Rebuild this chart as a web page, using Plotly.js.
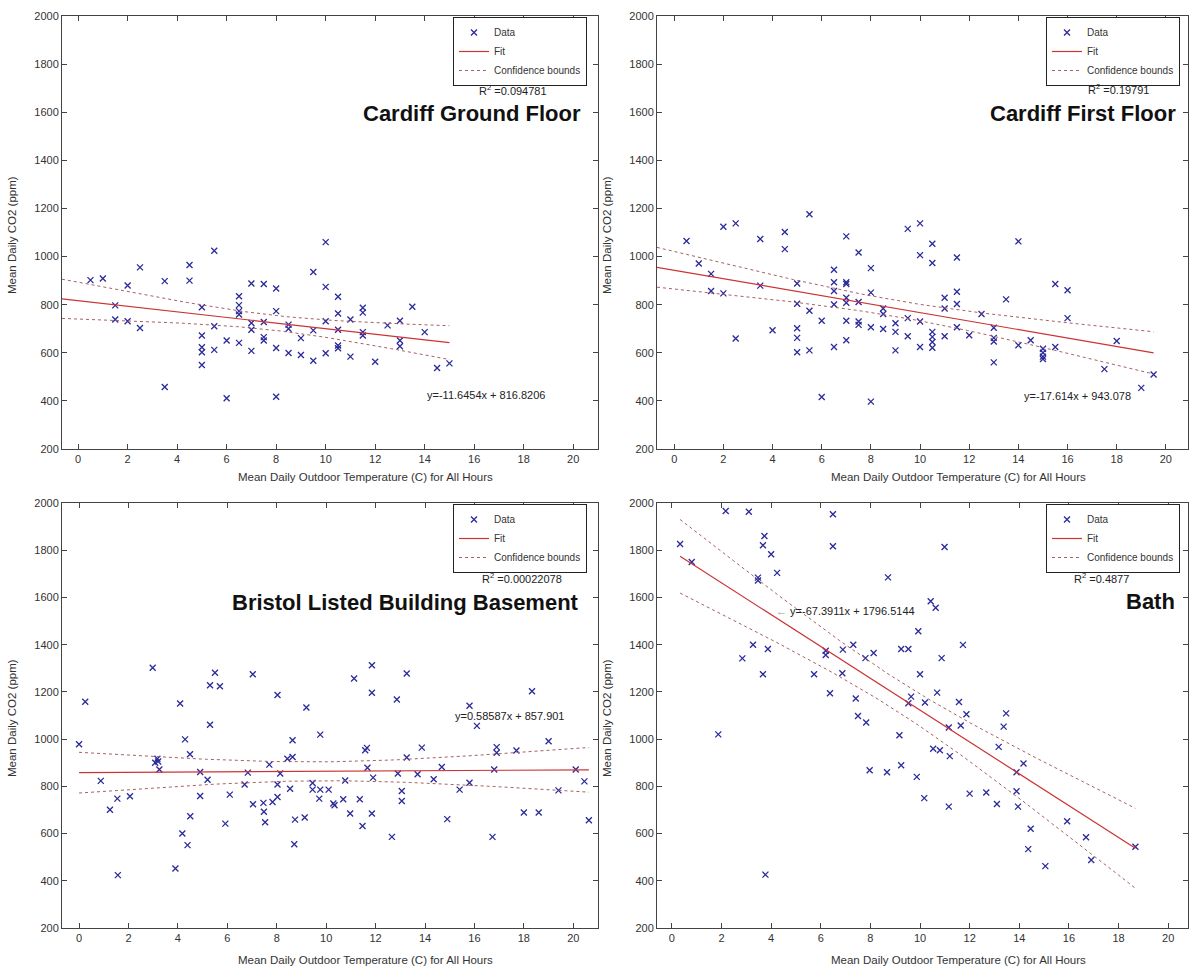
<!DOCTYPE html>
<html><head><meta charset="utf-8">
<script src="https://cdn.plot.ly/plotly-3.0.1.min.js"></script>
<style>html,body{margin:0;padding:0;background:#fff}#chart{width:1192px;height:971px}</style>
</head><body><div id="chart"></div>
<script>
// ---------------- data ----------------
const panelTitles = ['Cardiff Ground Floor', 'Cardiff First Floor', 'Bristol Listed Building Basement', 'Bath'];
const r2Values = ['0.094781', '0.19791', '0.00022078', '0.4877'];
const fitSlopes = [-11.6454, -17.614, 0.58587, -67.3911];
const fitIntercepts = [816.8206, 943.078, 857.901, 1796.5144];
const eqLabels = ['y=-11.6454x + 816.8206', 'y=-17.614x + 943.078', 'y=0.58587x + 857.901', 'y=-67.3911x + 1796.5144'];
const legendLabels = ['Data', 'Fit', 'Confidence bounds'];
const xTitle = 'Mean Daily Outdoor Temperature (C) for All Hours';
const yTitle = 'Mean Daily CO2 (ppm)';

const cgfTemp = [0.5,1,1.5,1.5,2,2,2.5,2.5,3.5,3.5,4.5,4.5,5,5,5,5,5,5.5,5.5,5.5,6,6,6.5,6.5,6.5,6.5,6.5,7,7,7,7,7.5,7.5,7.5,7.5,8,8,8,8,8.5,8.5,8.5,9,9,9.5,9.5,9.5,10,10,10,10,10.5,10.5,10.5,10.5,10.5,11,11,11.5,11.5,11.5,11.5,12,12.5,13,13,13,13.5,14,14.5,15];
const cgfCO2 = [902,909,797,738,880,731,955,703,898,458,965,900,789,672,623,602,549,1024,710,612,651,411,835,798,773,759,641,888,724,696,608,886,728,665,651,867,773,620,417,717,700,599,661,591,936,693,567,1060,874,731,598,833,763,696,630,619,738,584,787,767,686,672,563,714,733,651,627,791,686,537,556];

const cffTemp = [0.5,1,1.5,1.5,2,2,2.5,2.5,3.5,3.5,4,4.5,4.5,5,5,5,5,5,5.5,5.5,5.5,6,6,6.5,6.5,6.5,6.5,6.5,7,7,7,7,7,7,7,7.5,7.5,7.5,7.5,8,8,8,8,8.5,8.5,8.5,9,9,9,9.5,9.5,9.5,10,10,10,10,10.5,10.5,10.5,10.5,10.5,10.5,11,11,11,11.5,11.5,11.5,11.5,12,12.5,13,13,13,13,13.5,14,14,14.5,15,15,15,15,15.5,15.5,16,16,17.5,18,19,19.5];
const cffCO2 = [1065,971,928,857,1124,847,1138,659,1073,879,694,1102,1031,888,804,702,662,602,1176,775,610,733,416,945,893,857,801,624,1084,893,886,829,808,733,652,1017,811,730,716,952,850,706,397,784,761,699,723,687,610,1115,744,669,1138,1006,730,624,1053,973,687,666,645,621,829,784,669,996,854,803,706,673,761,704,662,647,560,822,1063,631,652,617,600,584,574,886,624,860,744,532,649,454,510];

const brsTemp = [0.0,0.25,0.88,1.25,1.55,1.57,2.06,2.98,3.08,3.17,3.25,3.2,3.9,4.09,4.18,4.29,4.39,4.49,4.5,4.9,4.9,5.2,5.3,5.3,5.5,5.7,5.92,6.1,6.7,6.83,7.03,7.04,7.46,7.48,7.53,7.7,7.83,8.03,8.03,8.03,8.14,8.43,8.64,8.64,8.54,8.74,8.71,9.13,9.2,9.45,9.45,9.72,9.76,9.76,10.1,10.29,10.34,10.69,10.77,10.97,11.13,11.36,11.47,11.58,11.65,11.67,11.85,11.85,11.85,11.9,12.66,12.86,12.9,13.06,13.06,13.26,13.26,13.7,13.87,14.35,14.68,14.9,15.4,15.8,15.8,16.1,16.73,16.8,16.9,16.9,17.7,18.0,18.33,18.6,19.0,19.4,20.1,20.45,20.63];
const brsCO2 = [978,1158,823,701,748,424,758,1302,900,917,871,905,452,1151,600,999,551,936,673,861,759,828,1061,1228,1281,1224,642,765,808,858,1275,724,730,692,648,892,734,1187,808,755,854,917,995,924,790,659,555,668,1134,814,786,748,1019,786,786,727,720,745,825,685,1257,745,632,953,963,879,1313,1196,685,837,586,1168,854,780,738,1278,922,851,964,830,882,661,786,815,1141,1056,586,871,966,942,952,689,1203,689,991,783,871,821,656];

const bathTemp = [0.33,0.8,2.17,3.1,6.49,6.49,3.73,3.67,4.0,4.24,3.47,3.47,8.71,9.93,3.27,2.84,3.87,3.67,6.2,6.2,6.89,7.31,7.8,8.13,9.24,9.53,5.73,6.87,10.0,6.37,7.41,7.5,7.83,9.64,9.53,9.17,1.87,7.97,8.67,9.24,9.87,10.99,10.43,10.63,11.73,10.87,10.69,10.2,11.57,11.87,11.64,13.47,13.37,11.16,10.53,10.8,11.2,13.17,14.17,13.89,12.0,12.67,13.89,10.17,11.16,13.1,13.95,14.46,14.36,15.05,15.93,16.69,16.9,18.68,3.77];
const bathCO2 = [1826,1750,1966,1963,1952,1817,1860,1821,1783,1704,1684,1672,1685,1457,1400,1342,1382,1275,1374,1356,1379,1400,1343,1365,1382,1382,1275,1279,1275,1194,1172,1098,1070,1180,1152,1016,1020,868,860,889,840,1814,1584,1556,1399,1343,1197,1155,1157,1105,1058,1109,1053,1049,959,953,928,967,897,860,769,774,779,750,714,725,714,620,534,462,652,584,488,544,426];

const temps = [cgfTemp, cffTemp, brsTemp, bathTemp];
const co2s = [cgfCO2, cffCO2, brsCO2, bathCO2];

// ---------------- layout geometry (pixels) ----------------
const W = 1192, H = 971;
const px = v => v / W, py = v => 1 - v / H;
const boxes = [[62, 598, 16, 449], [657, 1188, 16, 449], [62, 598, 503, 928], [657, 1188, 503, 928]];
const xRanges = [[-0.65, 21], [-0.7, 20.9], [-0.69, 21], [-0.6, 20.8]];
const fitFromAxis = [true, true, false, false];
const legendPos = [[587, 17], [1180, 17], [587, 504], [1180, 504]];
const r2Pos = [[513, 90], [1118, 89], [522, 578], [1101, 578]];
const titlePos = [[583, 114], [1178, 114], [581, 602], [1177, 601]];
const eqPos = [[425, 395], [1022, 396], [453, 716], [774, 611]];
const xTitlePos = [[365, 477], [958, 477], [365, 960], [958, 960]];
const yTitlePos = [[12, 235], [607, 235], [12, 718], [607, 718]];

const markerColor = '#2a2a9a', fitColor = '#cc3333', boundColor = '#a86060';
const baseFont = 'Liberation Sans, Arial, Helvetica, sans-serif';

function fitAndBounds(xs, ys, m, c, x0, x1) {
  const n = xs.length;
  const xbar = xs.reduce((a, b) => a + b, 0) / n;
  let sxx = 0, sse = 0;
  xs.forEach((x, i) => { sxx += (x - xbar) ** 2; sse += (ys[i] - (m * x + c)) ** 2; });
  const s = Math.sqrt(sse / (n - 2)), t = 1.99;
  const fx = [], fy = [], up = [], lo = [];
  const N = 80;
  for (let k = 0; k <= N; k++) {
    const x = x0 + (x1 - x0) * k / N;
    const yhat = m * x + c;
    const hw = t * s * Math.sqrt(1 / n + (x - xbar) ** 2 / sxx);
    fx.push(x); fy.push(yhat); up.push(yhat + hw); lo.push(yhat - hw);
  }
  return { fx, fy, up, lo };
}

const traces = [];
const layout = {
  width: W, height: H, paper_bgcolor: '#fff', plot_bgcolor: '#fff',
  margin: { l: 0, r: 0, t: 0, b: 0 }, showlegend: true,
  font: { family: baseFont, color: '#222', size: 11 },
  annotations: []
};

for (let p = 0; p < 4; p++) {
  const sfx = p === 0 ? '' : String(p + 1);
  const xa = 'x' + sfx, ya = 'y' + sfx;
  const leg = p === 0 ? 'legend' : 'legend' + (p + 1);
  const [l, r, t, b] = boxes[p];
  const xs = temps[p], ys = co2s[p];
  const x0 = fitFromAxis[p] ? xRanges[p][0] : Math.min(...xs);
  const x1 = Math.max(...xs);
  const fb = fitAndBounds(xs, ys, fitSlopes[p], fitIntercepts[p], x0, x1);

  traces.push({ x: xs, y: ys, type: 'scatter', mode: 'markers', name: legendLabels[0], xaxis: xa, yaxis: ya, legend: leg,
    marker: { symbol: 'x-thin-open', size: 6, color: markerColor, line: { width: 1.3, color: markerColor } } });
  traces.push({ x: fb.fx, y: fb.fy, type: 'scatter', mode: 'lines', name: legendLabels[1], xaxis: xa, yaxis: ya, legend: leg,
    line: { color: fitColor, width: 1.2 } });
  traces.push({ x: fb.fx, y: fb.up, type: 'scatter', mode: 'lines', name: legendLabels[2], xaxis: xa, yaxis: ya, legend: leg,
    line: { color: boundColor, width: 1, dash: 'dot' } });
  traces.push({ x: fb.fx, y: fb.lo, type: 'scatter', mode: 'lines', name: legendLabels[2], xaxis: xa, yaxis: ya, legend: leg, showlegend: false,
    line: { color: boundColor, width: 1, dash: 'dot' } });

  const axCommon = { showline: true, mirror: 'ticks', linecolor: '#444', linewidth: 1, ticks: 'inside', ticklen: 5, tickcolor: '#444',
    showgrid: false, zeroline: false, tickfont: { size: 11, color: '#333', family: baseFont } };
  layout['xaxis' + sfx] = Object.assign({}, axCommon, { domain: [px(l), px(r)], range: xRanges[p], tick0: 0, dtick: 2, anchor: ya });
  layout['yaxis' + sfx] = Object.assign({}, axCommon, { domain: [py(b), py(t)], range: [200, 2000], tick0: 200, dtick: 200, anchor: xa });

  layout[leg] = { x: px(legendPos[p][0]), xanchor: 'right', y: py(legendPos[p][1]), yanchor: 'top', xref: 'paper', yref: 'paper',
    bgcolor: '#fff', bordercolor: '#222', borderwidth: 1, font: { size: 10, color: '#333' }, tracegroupgap: 0, itemwidth: 30 };

  // axis titles
  layout.annotations.push({ xref: 'paper', yref: 'paper', x: px(xTitlePos[p][0]), y: py(xTitlePos[p][1]), xanchor: 'center', yanchor: 'middle',
    text: xTitle, showarrow: false, font: { size: 11.5, color: '#333' } });
  layout.annotations.push({ xref: 'paper', yref: 'paper', x: px(yTitlePos[p][0]), y: py(yTitlePos[p][1]), xanchor: 'center', yanchor: 'middle',
    text: yTitle, textangle: -90, showarrow: false, font: { size: 11.5, color: '#333' } });

  layout.annotations.push({ xref: 'paper', yref: 'paper', x: px(r2Pos[p][0]), y: py(r2Pos[p][1]), xanchor: 'center', yanchor: 'middle',
    text: 'R<sup>2</sup> =' + r2Values[p], showarrow: false, font: { size: 11, color: '#222' } });
  layout.annotations.push({ xref: 'paper', yref: 'paper', x: px(titlePos[p][0]), y: py(titlePos[p][1]), xanchor: 'right', yanchor: 'middle',
    text: '<b>' + panelTitles[p] + '</b>', showarrow: false, font: { size: 22, color: '#111', family: baseFont } });
  const eqText = p === 3 ? '<span style="color:#999">\u2190</span> ' + eqLabels[p] : eqLabels[p];
  layout.annotations.push({ xref: 'paper', yref: 'paper', x: px(eqPos[p][0]), y: py(eqPos[p][1]), xanchor: 'left', yanchor: 'middle',
    text: eqText, showarrow: false, font: { size: 11, color: '#222' } });
}

Plotly.newPlot('chart', traces, layout, { displayModeBar: false, staticPlot: true });
</script></body></html>
